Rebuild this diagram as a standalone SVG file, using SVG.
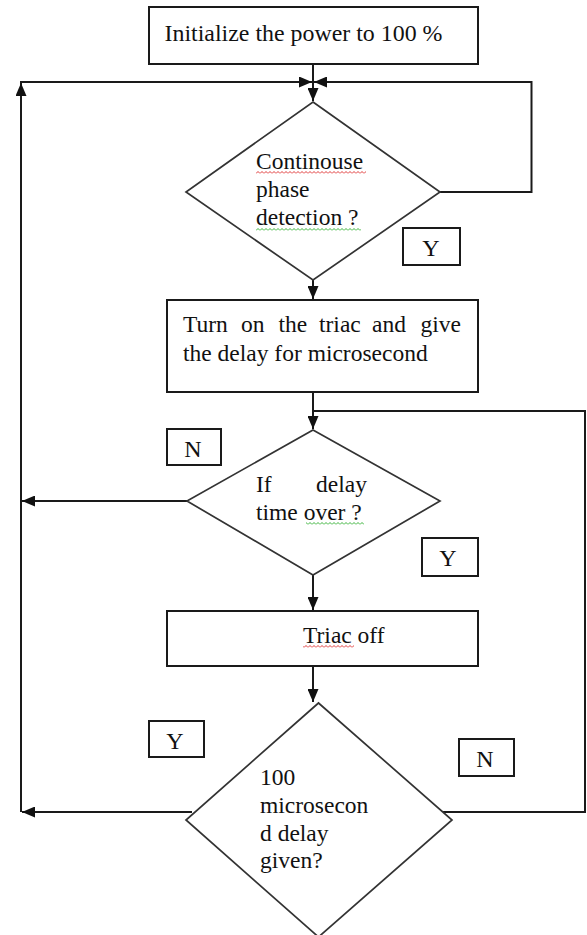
<svg xmlns="http://www.w3.org/2000/svg" width="587" height="935" viewBox="0 0 587 935">
  <style>
    .box { fill: #fff; stroke: #1a1a1a; stroke-width: 2; }
    .dec { fill: #fff; stroke: #333; stroke-width: 1.7; }
    .tag { fill: #fff; stroke: #1a1a1a; stroke-width: 2; }
    .txt { font-family: "Liberation Serif", "Times New Roman", serif; font-size: 23.5px; fill: #111; }
    .lbl { font-family: "Liberation Serif", "Times New Roman", serif; font-size: 24px; fill: #111; text-anchor: middle; }
    .wire { fill: none; stroke: #1a1a1a; stroke-width: 2; }
  </style>
  <defs>
    <marker id="arrow" viewBox="0 0 13 11" refX="13" refY="5.5" markerWidth="13" markerHeight="11" markerUnits="userSpaceOnUse" orient="auto">
      <path d="M0,0 L13,5.5 L0,11 z" fill="#111"/>
    </marker>
    <!-- wavy proofing underlines -->
    <pattern id="wavyRed" x="0" y="0" width="4" height="3" patternUnits="userSpaceOnUse">
      <path d="M0 2.5 L2 0.5 L4 2.5" fill="none" stroke="#d22" stroke-width="0.9"/>
    </pattern>
    <pattern id="wavyGreen" x="0" y="0" width="4" height="3" patternUnits="userSpaceOnUse">
      <path d="M0 2.5 L2 0.5 L4 2.5" fill="none" stroke="#2a2" stroke-width="0.9"/>
    </pattern>
  </defs>

  <rect width="587" height="935" fill="#fff"/>

  <!-- connectors -->
  <g id="connectors">
    <path class="wire" d="M313 64 V101" marker-end="url(#arrow)"/>
    <path class="wire" d="M21 812 V83" marker-end="url(#arrow)"/>
    <path class="wire" d="M20 82 H312" marker-end="url(#arrow)"/>
    <path class="wire" d="M440 192 H531.5 V82 H314" marker-end="url(#arrow)"/>
    <path class="wire" d="M313 280 V299" marker-end="url(#arrow)"/>
    <path class="wire" d="M313 392 V429" marker-end="url(#arrow)"/>
    <path class="wire" d="M443 812 H585 V411 H313"/>
    <path class="wire" d="M187 501 H22" marker-end="url(#arrow)"/>
    <path class="wire" d="M313 575 V610" marker-end="url(#arrow)"/>
    <path class="wire" d="M313 666 V702" marker-end="url(#arrow)"/>
    <path class="wire" d="M192 812 H22" marker-end="url(#arrow)"/>
  </g>

  <g id="init">
    <rect class="box" x="149" y="7" width="329" height="57"/>
    <text class="txt" x="164.5" y="40.5" textLength="278" lengthAdjust="spacingAndGlyphs">Initialize the power to 100 %</text>
  </g>

  <g id="phase-check">
    <polygon class="dec" points="313,102 440,192 313,280 186,192"/>
    <text class="txt" x="256" y="169">Continouse</text>
    <text class="txt" x="256" y="197">phase</text>
    <text class="txt" x="256" y="225">detection ?</text>
    <rect x="256" y="171" width="110" height="3" fill="url(#wavyRed)"/>
    <rect x="256" y="228" width="105" height="3" fill="url(#wavyGreen)"/>
  </g>

  <g id="yes-1">
    <rect class="tag" x="403" y="228" width="57" height="37"/>
    <text class="lbl" x="431" y="256">Y</text>
  </g>

  <g id="triac-on">
    <rect class="box" x="167" y="300" width="311" height="92"/>
    <text class="txt" y="332"><tspan x="183">Turn</tspan><tspan x="241">on</tspan><tspan x="278.5">the</tspan><tspan x="319">triac</tspan><tspan x="372">and</tspan><tspan x="420.5">give</tspan></text>
    <text class="txt" x="183" y="361">the delay for microsecond</text>
  </g>

  <g id="delay-check">
    <polygon class="dec" points="313,430 440,501 313,575 187,501"/>
    <text class="txt" y="492"><tspan x="256">If</tspan><tspan x="316">delay</tspan></text>
    <text class="txt" x="256" y="520">time over ?</text>
    <rect x="306" y="522" width="58" height="3" fill="url(#wavyGreen)"/>
  </g>

  <g id="no-1">
    <rect class="tag" x="167" y="429" width="54" height="36"/>
    <text class="lbl" x="193" y="457">N</text>
  </g>

  <g id="yes-2">
    <rect class="tag" x="422" y="538" width="56" height="38"/>
    <text class="lbl" x="448" y="566">Y</text>
  </g>

  <g id="triac-off">
    <rect class="box" x="167" y="611" width="311" height="55"/>
    <text class="txt" x="303" y="643">Triac off</text>
    <rect x="303" y="645" width="51" height="3" fill="url(#wavyRed)"/>
  </g>

  <g id="hundred-check">
    <polygon class="dec" points="318.5,703 452,820 318.5,937 186,820"/>
    <text class="txt" x="260" y="785">100</text>
    <text class="txt" x="260" y="813">microsecon</text>
    <text class="txt" x="260" y="841">d delay</text>
    <text class="txt" x="260" y="868">given?</text>
  </g>

  <g id="yes-3">
    <rect class="tag" x="149" y="721" width="55" height="36"/>
    <text class="lbl" x="175" y="749">Y</text>
  </g>

  <g id="no-2">
    <rect class="tag" x="459" y="739" width="55" height="37"/>
    <text class="lbl" x="485" y="767">N</text>
  </g>
</svg>
